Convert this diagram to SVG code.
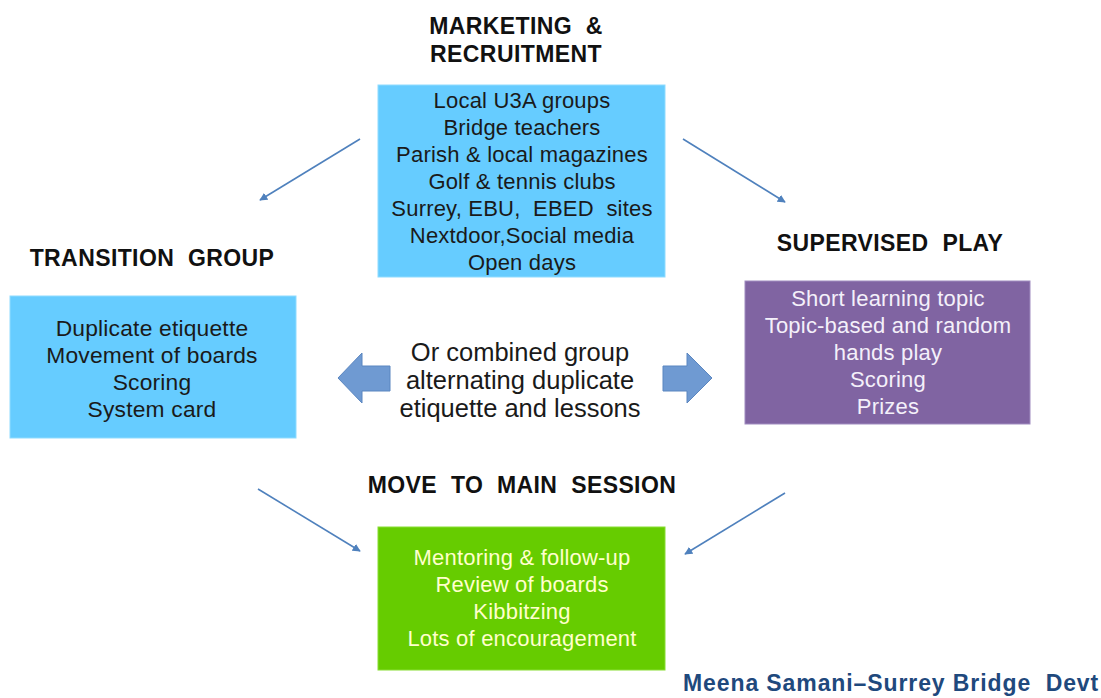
<svg xmlns="http://www.w3.org/2000/svg" width="1101" height="698" viewBox="0 0 1101 698">
<defs>
<style>
.t{font-family:"Liberation Sans",Arial,sans-serif;font-size:22px;text-anchor:middle;letter-spacing:0.2px;}
.c{font-family:"Liberation Sans",Arial,sans-serif;font-size:25.5px;text-anchor:middle;}
.h{font-family:"Liberation Sans",Arial,sans-serif;font-size:23px;font-weight:bold;text-anchor:middle;fill:#111;word-spacing:7px;letter-spacing:0.4px;}
.dk{fill:#1a1a1a;}
.wt{fill:#f4f0fa;}
.yl{fill:#ffffcc;}
.con{stroke:#4f81bd;stroke-width:1.6;fill:none;marker-end:url(#ah);}
.blk{fill:#6f9ad2;stroke:#5b86c0;stroke-width:1;}
</style>
<marker id="ah" viewBox="0 0 10 10" refX="9" refY="5" markerWidth="5" markerHeight="5" orient="auto" markerUnits="strokeWidth">
<path d="M0,0 L10,5 L0,10 z" fill="#4f81bd"/>
</marker>
</defs>
<rect width="1101" height="698" fill="#ffffff"/>

<g id="marketing">
<text class="h" x="516" y="34">MARKETING &amp;</text>
<text class="h" x="516" y="62">RECRUITMENT</text>
<rect x="378" y="85" width="287" height="192" fill="#66ccff" stroke="#8fdcff" stroke-width="1"/>
<text class="t dk" x="522" y="108">Local U3A groups</text>
<text class="t dk" x="522" y="135">Bridge teachers</text>
<text class="t dk" x="522" y="162">Parish &amp; local magazines</text>
<text class="t dk" x="522" y="189">Golf &amp; tennis clubs</text>
<text class="t dk" x="522" y="216" xml:space="preserve">Surrey, EBU,  EBED  sites</text>
<text class="t dk" x="522" y="243">Nextdoor,Social media</text>
<text class="t dk" x="522" y="270">Open days</text>
</g>

<g id="transition">
<text class="h" x="152" y="266">TRANSITION GROUP</text>
<rect x="10" y="296" width="286" height="142" fill="#66ccff" stroke="#8fdcff" stroke-width="1"/>
<text class="t dk" x="152" y="336" style="font-size:22.8px">Duplicate etiquette</text>
<text class="t dk" x="152" y="363" style="font-size:22.8px">Movement of boards</text>
<text class="t dk" x="152" y="390" style="font-size:22.8px">Scoring</text>
<text class="t dk" x="152" y="417" style="font-size:22.8px">System card</text>
</g>

<g id="supervised">
<text class="h" x="890" y="251">SUPERVISED PLAY</text>
<rect x="745" y="281" width="285" height="143" fill="#8064a2" stroke="#a08cc0" stroke-width="1"/>
<text class="t wt" x="888" y="306">Short learning topic</text>
<text class="t wt" x="888" y="333">Topic-based and random</text>
<text class="t wt" x="888" y="360">hands play</text>
<text class="t wt" x="888" y="387">Scoring</text>
<text class="t wt" x="888" y="414">Prizes</text>
</g>

<g id="combined">
<text class="c dk" x="520" y="361">Or combined group</text>
<text class="c dk" x="520" y="389">alternating duplicate</text>
<text class="c dk" x="520" y="417">etiquette and lessons</text>
<path class="blk" d="M338,378 L362,353 L362,366 L390,366 L390,391 L362,391 L362,403 Z"/>
<path class="blk" d="M712,378 L687,353 L687,366 L663,366 L663,391 L687,391 L687,403 Z"/>
</g>

<g id="main-session">
<text class="h" x="522" y="493">MOVE TO MAIN SESSION</text>
<rect x="378" y="527" width="287" height="143" fill="#66cc00" stroke="#88dd33" stroke-width="1"/>
<text class="t yl" x="522" y="565">Mentoring &amp; follow-up</text>
<text class="t yl" x="522" y="592">Review of boards</text>
<text class="t yl" x="522" y="619">Kibbitzing</text>
<text class="t yl" x="522" y="646">Lots of encouragement</text>
</g>

<g id="footer">
<text x="683" y="691" font-family="Liberation Sans, Arial, sans-serif" font-size="23" font-weight="bold" fill="#1f497d" letter-spacing="0.9" xml:space="preserve">Meena Samani–Surrey Bridge  Devt</text>
</g>

<g id="connectors">
<line class="con" x1="360" y1="139" x2="260" y2="200"/>
<line class="con" x1="683" y1="139" x2="785" y2="202"/>
<line class="con" x1="258" y1="489" x2="360" y2="551"/>
<line class="con" x1="785" y1="493" x2="685" y2="554"/>
</g>
</svg>
